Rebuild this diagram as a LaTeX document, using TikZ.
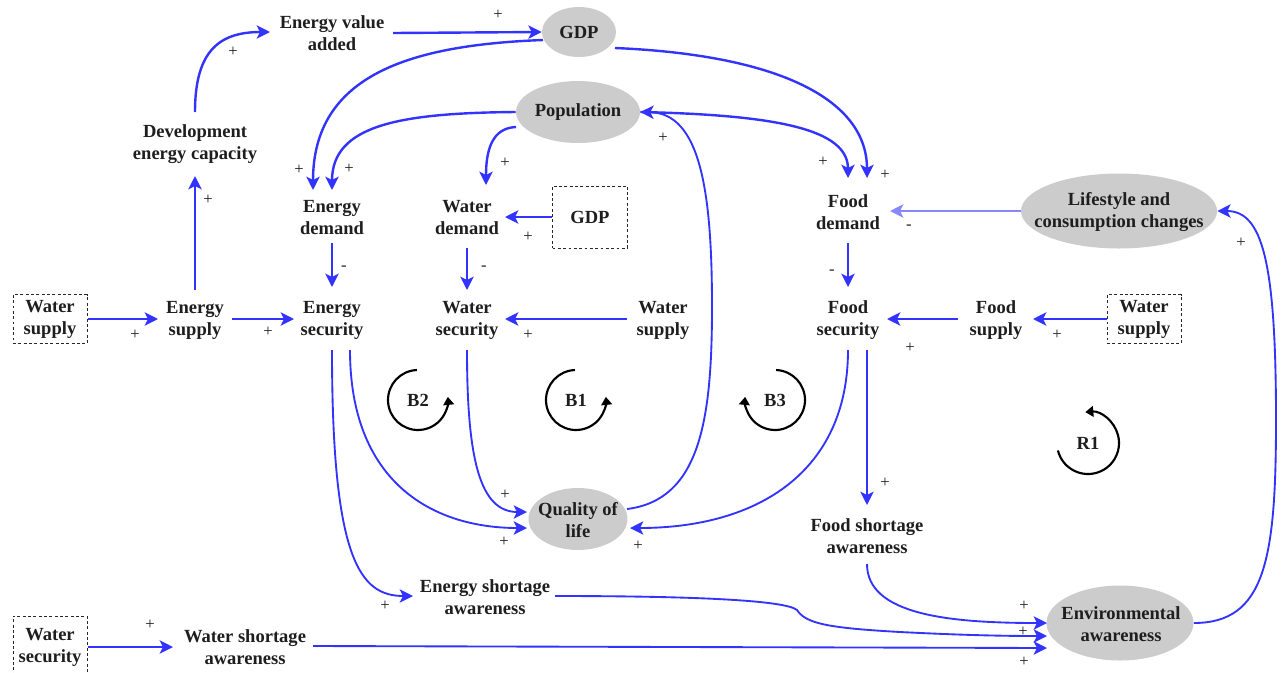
\documentclass[tikz,border=0pt]{standalone}
\usepackage{fontspec}
\setmainfont{Liberation Serif}
\usetikzlibrary{arrows.meta,calc,shapes.geometric}
\definecolor{linkblue}{RGB}{51,51,255}
\definecolor{paleblue}{RGB}{135,135,255}
\definecolor{ovalgrey}{RGB}{204,204,204}
\definecolor{inkgrey}{RGB}{30,30,30}

\begin{document}
\begin{tikzpicture}[x=0.75pt,y=0.75pt,
  txt/.style={font=\fontsize{13.9pt}{16.5pt}\selectfont\bfseries, align=center, text=inkgrey, inner sep=0pt},
  oval/.style={ellipse, fill=ovalgrey, draw=none, inner sep=0pt},
  exo/.style={txt, draw=black!85, line width=0.75pt, dash pattern=on 2.2pt off 1.8pt},
  sgn/.style={font=\fontsize{12.5pt}{13pt}\selectfont, text=inkgrey, inner sep=0pt},
  link/.style={draw=linkblue, line width=1.8pt, -{Stealth[length=10pt,width=10pt,inset=2.5pt]}},
  flow/.style={link, line width=1.4pt},
  loopmark/.style={draw=black, line width=1.6pt, -{Triangle[length=6pt,width=8pt]}}
]
\useasboundingbox (0,0) rectangle (1281,-672);
\clip (0,0) rectangle (1281,-672);

% ---- auxiliary variables (grey ellipses) ----
\node[oval, minimum width=55.5pt, minimum height=37.5pt] (gdp) at (579,-32) {};
\node[txt] (gdp-t) at (gdp) {GDP};
\node[oval, minimum width=93pt, minimum height=46.5pt] (pop) at (578,-112) {};
\node[txt] (pop-t) at (pop) {Population};
\node[oval, minimum width=147pt, minimum height=56.25pt] (life) at (1119,-211) {};
\node[txt] (life-t) at (1119,-212) {Lifestyle and\\consumption changes};
\node[oval, minimum width=74.25pt, minimum height=46.5pt] (qol) at (578,-519) {};
\node[txt] (qol-t) at (578,-520) {Quality of\\life};
\node[oval, minimum width=110.25pt, minimum height=56.25pt] (env) at (1120,-623) {};
\node[txt] (env-t) at (1121,-624) {Environmental\\awareness};

% ---- plain variables ----
\node[txt] (eva)  at (332,-33)  {Energy value\\added};
\node[txt] (dec)  at (195,-144) {Development\\energy capacity};
\node[txt] (edem) at (332,-218) {Energy\\demand};
\node[txt] (wdem) at (467,-218) {Water\\demand};
\node[txt] (fdem) at (848,-212) {Food\\demand};
\node[txt] (esup) at (195,-320) {Energy\\supply};
\node[txt] (esec) at (332,-320) {Energy\\security};
\node[txt] (wsec) at (467,-320) {Water\\security};
\node[txt] (wsupM) at (663,-320) {Water\\supply};
\node[txt] (fsec) at (848,-320) {Food\\security};
\node[txt] (fsup) at (996,-320) {Food\\supply};
\node[txt] (fsa)  at (867,-536) {Food shortage\\awareness};
\node[txt] (esa)  at (485,-597) {Energy shortage\\awareness};
\node[txt] (wsa)  at (245,-647) {Water shortage\\awareness};

% ---- exogenous inputs (dashed boxes) ----
\node[exo, minimum width=55.5pt, minimum height=36.75pt] (wsupL) at (50,-319) {Water\\supply};
\node[exo, minimum width=55.5pt, minimum height=36.75pt] (wsupR) at (1144,-319) {Water\\supply};
\node[exo, minimum width=56.25pt, minimum height=46.5pt] (gdpbox) at (590,-217) {GDP};
\node[exo, minimum width=55.5pt, minimum height=46.5pt] (wsecB) at (50,-647) {Water\\security};

% ---- causal links ----
\draw[link] ($(eva)+(61,0)$) -- (gdp.west);
\draw[link] ($(gdp)+(-36,-8)$) .. controls (410,-45) and (313,-75) .. ($(edem)+(-19,28)$);
\draw[link] (pop.west) .. controls (400,-113) and (332,-125) .. ($(edem)+(0,28)$);
\draw[link] ($(dec)+(0,32)$) .. controls (195,-50) and (220,-32) .. ($(eva)+(-62,1)$);
\draw[link] ($(esup)+(0,30)$) -- ($(dec)+(0,-32)$);
\draw[link] (wsupL.east) -- ($(esup)+(-37,1)$);
\draw[link] ($(esup)+(37,1)$) -- ($(esec)+(-38,1)$);
\draw[link] ($(edem)+(0,-25)$) -- ($(esec)+(0,33)$);
\draw[link] ($(pop)+(-62,-15)$) .. controls (492,-128) and (486,-150) .. ($(wdem)+(19,33)$);
\draw[link] (gdpbox.west) -- ($(wdem)+(38,1)$);
\draw[link] ($(wdem)+(0,-30)$) -- ($(wsec)+(0,30)$);
\draw[link] ($(wsupM)+(-36,1)$) -- ($(wsec)+(38,1)$);
\draw[link] ($(gdp)+(36,-16)$) .. controls (780,-55) and (867,-100) .. ($(fdem)+(19,34)$);
\draw[link] (pop.east) .. controls (780,-115) and (848,-130) .. ($(fdem)+(0,34)$);
\draw[flow] ($(qol)+(49,10)$) .. controls (700,-500) and (712,-420) .. (712,-307)
            .. controls (712,-190) and (700,-113) .. (pop.east);
\draw[link, draw=paleblue] (life.west) -- ($(fdem)+(42,1)$);
\draw[link] ($(fdem)+(0,-31)$) -- ($(fsec)+(0,33)$);
\draw[link] ($(fsup)+(-38,1)$) -- ($(fsec)+(39,1)$);
\draw[link] (wsupR.west) -- ($(fsup)+(37,1)$);
\draw[flow] ($(esec)+(18,-30)$) .. controls (350,-480) and (430,-528) .. ($(qol)+(-51,-9)$);
\draw[flow] ($(wsec)+(0,-30)$) .. controls (467,-460) and (480,-512) .. ($(qol)+(-51,7)$);
\draw[flow] ($(fsec)+(0,-30)$) .. controls (848,-470) and (760,-528) .. ($(qol)+(52,-9)$);
\draw[flow] ($(fsec)+(19,-30)$) -- ($(fsa)+(0,31)$);
\draw[flow] ($(esec)+(0,-30)$) .. controls (332,-560) and (360,-596) .. ($(esa)+(-72,1)$);
\draw[flow] ($(esa)+(70,1)$) .. controls (690,-596) and (785,-600) .. (797,-610)
            .. controls (806,-624) and (830,-628) .. (900,-632)
            .. controls (960,-635) and (1000,-636) .. ($(env)+(-73,-13)$);
\draw[flow] ($(fsa)+(0,-28)$) .. controls (867,-615) and (950,-623) .. ($(env)+(-73,0)$);
\draw[flow] ($(wsa)+(68,1)$) -- ($(env)+(-73,-25)$);
\draw[link] (wsecB.east) -- ($(wsa)+(-72,0)$);
\draw[flow] (env.east) .. controls (1265,-623) and (1276,-560) .. (1276,-420)
            .. controls (1276,-260) and (1262,-211) .. (life.east);

% ---- link polarities ----
\foreach \x/\y/\s [count=\k] in {
  498/15/+, 299/170/+, 349/169/+, 233/52/+, 208/200/+, 135/335/+, 268/332/+,
  344/268/-, 505/163/+, 528/237/+, 484/268/-, 528/335/+, 885/175/+, 823/162/+,
  663/138/+, 909/227/-, 832/272/-, 910/348/+, 1057/335/+, 504/542/+, 505/495/+,
  638/546/+, 885/483/+, 385/606/+, 1023/632/+, 1024/606/+, 1024/662/+,
  150/625/+, 1241/243/+}
  \node[sgn] (sign\k) at (\x,-\y) {\s};

% ---- loop identifiers ----
\node[txt] (b2) at (418,-400) {B2};
\draw[loopmark] ($(b2)+(92:30)$) arc[start angle=92, end angle=366, radius=30];
\node[txt] (b1) at (576,-400) {B1};
\draw[loopmark] ($(b1)+(92:30)$) arc[start angle=92, end angle=366, radius=30];
\node[txt] (b3) at (775,-400) {B3};
\draw[loopmark] ($(b3)+(88:30)$) arc[start angle=88, end angle=-186, radius=30];
\node[txt] (r1) at (1088,-443) {R1};
\draw[loopmark] ($(r1)+(194:31)$) arc[start angle=194, end angle=455, radius=31];
\end{tikzpicture}
\end{document}
